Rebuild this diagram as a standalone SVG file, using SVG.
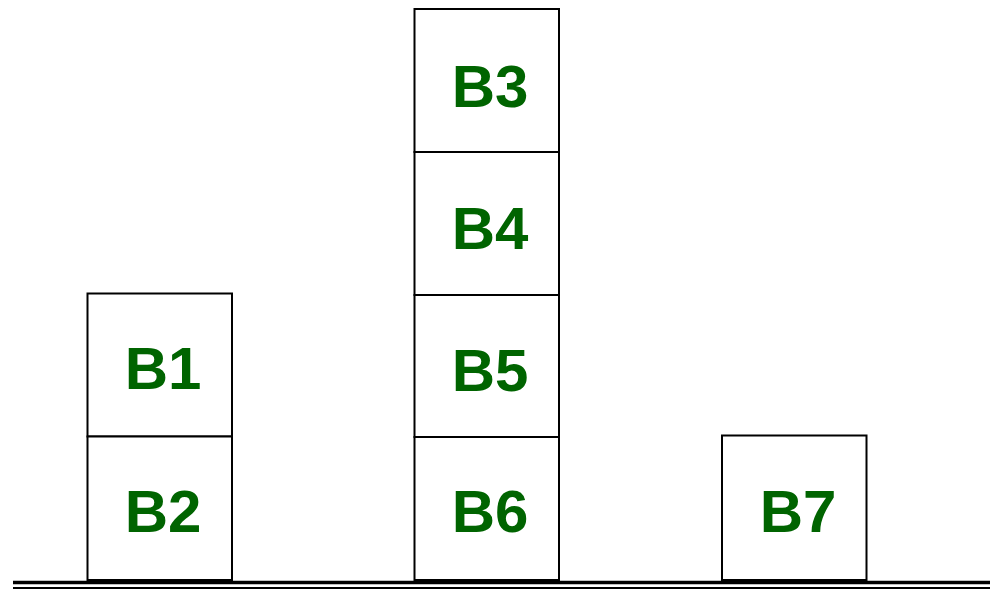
<svg xmlns="http://www.w3.org/2000/svg" width="990" height="589" viewBox="0 0 990 589">
<style>
.box{fill:#fff;stroke:#000;stroke-width:2}
.lbl{font-family:"Liberation Sans",Arial,sans-serif;font-weight:bold;font-size:60px;fill:#006400;text-anchor:middle}
.gnd{stroke:#000}
</style>
<rect width="990" height="589" fill="#fff"/>
<g id="B1"><rect class="box" x="87.5" y="293.5" width="144.5" height="143"/><text class="lbl" x="163" y="389">B1</text></g>
<g id="B2"><rect class="box" x="87.5" y="436.5" width="144.5" height="143.5"/><text class="lbl" x="163" y="532">B2</text></g>
<g id="B3"><rect class="box" x="414.5" y="9" width="144.5" height="143"/><text class="lbl" x="490" y="106.5">B3</text></g>
<g id="B4"><rect class="box" x="414.5" y="152" width="144.5" height="143"/><text class="lbl" x="490" y="249">B4</text></g>
<g id="B5"><rect class="box" x="414.5" y="295" width="144.5" height="142"/><text class="lbl" x="490" y="391">B5</text></g>
<g id="B6"><rect class="box" x="414.5" y="437" width="144.5" height="143"/><text class="lbl" x="490" y="532">B6</text></g>
<g id="B7"><rect class="box" x="722" y="435.5" width="144.5" height="144.5"/><text class="lbl" x="798" y="532">B7</text></g>
<g id="ground">
<line class="gnd" x1="13" y1="582.5" x2="990" y2="582.5" stroke-width="3.5"/>
<line class="gnd" x1="13" y1="588" x2="990" y2="588" stroke-width="2"/>
</g>
</svg>
